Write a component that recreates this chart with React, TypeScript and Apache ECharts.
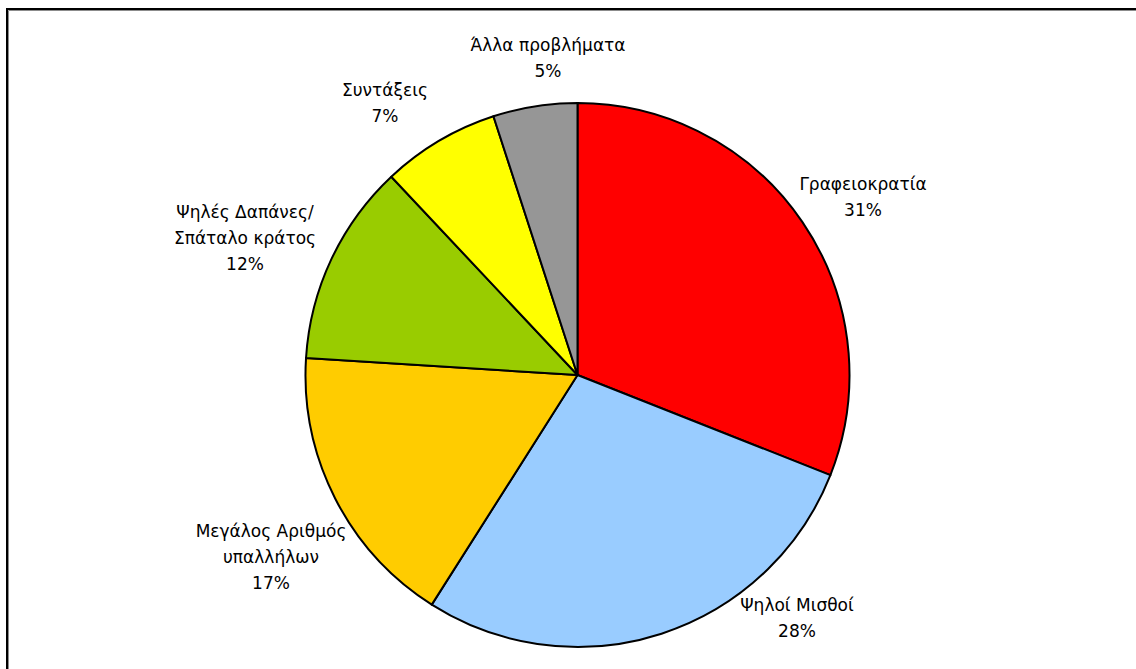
import React, { useEffect, useRef } from "react";
import * as echarts from "echarts";

const categories = [
  "Γραφειοκρατία",
  "Ψηλοί Μισθοί",
  "Μεγάλος Αριθμός\nυπαλλήλων",
  "Ψηλές Δαπάνες/\nΣπάταλο κράτος",
  "Συντάξεις",
  "Άλλα προβλήματα",
];
const values = [31, 28, 17, 12, 7, 5];
const colors = ["#FF0000", "#99CCFF", "#FFCC00", "#99CC00", "#FFFF00", "#969696"];
// label centres (page pixels)
const labelPos: [number, number][] = [
  [863, 197],
  [797, 618],
  [271, 557],
  [245, 238],
  [385, 103],
  [548, 58],
];

export default function App() {
  const ref = useRef<HTMLDivElement>(null);
  useEffect(() => {
    if (!ref.current) return;
    const chart = echarts.init(ref.current, null, { renderer: "svg" });
    chart.setOption({
      animation: false,
      backgroundColor: "#ffffff",
      graphic: [
        {
          type: "rect",
          shape: { x: 7, y: 9, width: 1200, height: 700 },
          style: { fill: "none", stroke: "#000000", lineWidth: 2 },
          silent: true,
        },
        {
          type: "rect",
          shape: { x: 8.5, y: 10.5, width: 1200, height: 700 },
          style: { fill: "none", stroke: "#8c8c8c", lineWidth: 1 },
          silent: true,
        },
      ],
      series: [
        {
          type: "pie",
          center: [577.5, 375],
          radius: 272,
          startAngle: 90,
          clockwise: true,
          avoidLabelOverlap: false,
          data: categories.map((name, i) => ({
            name,
            value: values[i],
            itemStyle: { color: colors[i] },
          })),
          itemStyle: { borderColor: "#000000", borderWidth: 2 },
          label: {
            show: true,
            position: "outside",
            formatter: "{b}\n{d}%",
            fontFamily: "DejaVu Sans",
            fontSize: 17,
            lineHeight: 26,
            color: "#000000",
            align: "center",
          },
          labelLine: { show: false },
          labelLayout: (params: any) => {
            const p = labelPos[params.dataIndex];
            return { x: p[0], y: p[1], align: "center", verticalAlign: "middle" };
          },
          emphasis: { disabled: true },
        },
      ],
    });
    return () => chart.dispose();
  }, []);
  return (
    <div
      ref={ref}
      style={{ position: "fixed", left: 0, top: 0, width: 1136, height: 669 }}
    />
  );
}
